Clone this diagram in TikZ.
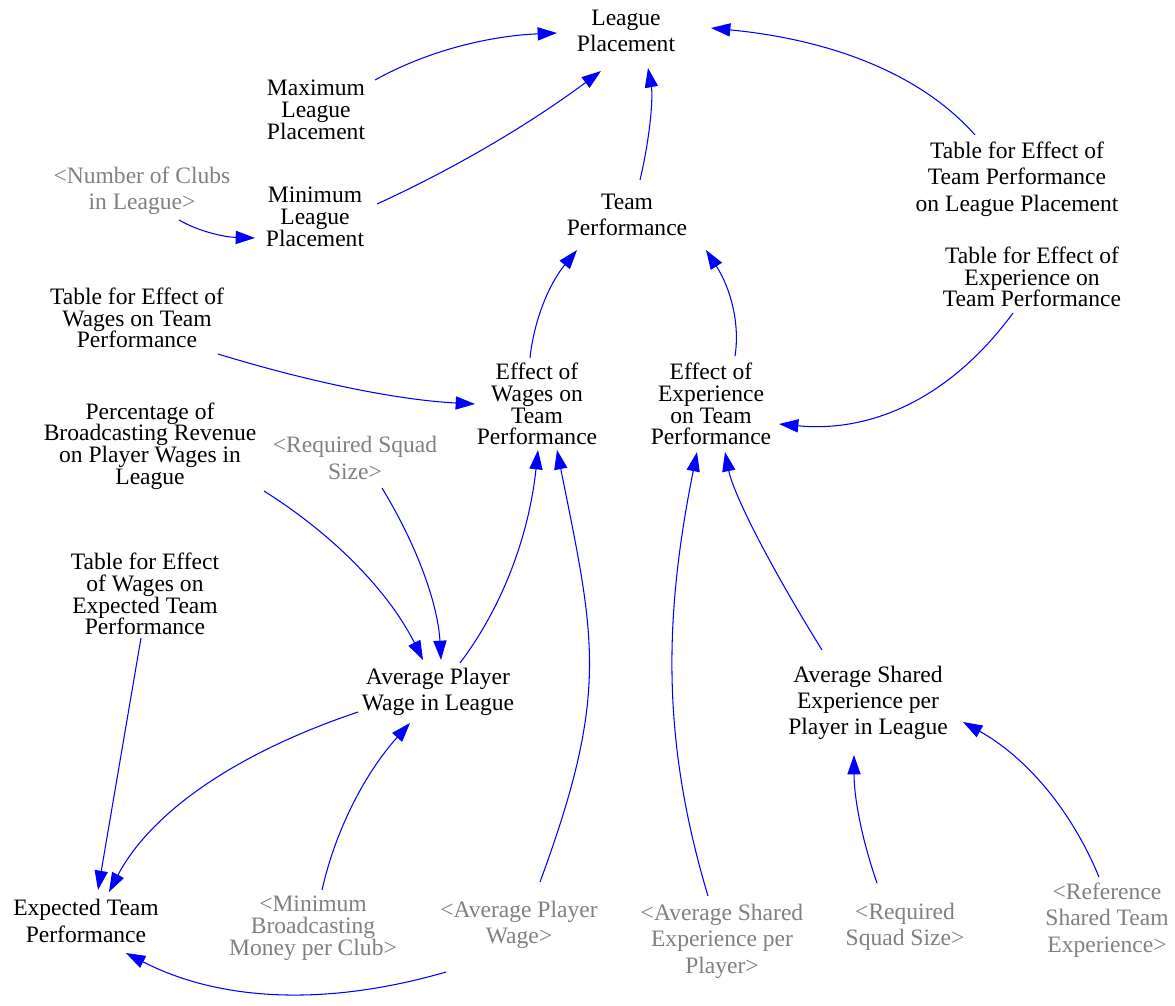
\documentclass[tikz,border=0pt]{standalone}
\usepackage{fontspec}
\setmainfont{Liberation Serif}
\usetikzlibrary{arrows.meta,calc}

\definecolor{linkblue}{RGB}{0,0,255}
\definecolor{shadowgray}{RGB}{128,128,128}

\begin{document}
\begin{tikzpicture}[
  x=0.02cm, y=-0.02cm,
  var/.style={align=center, inner sep=0pt, text=black},
  ghost/.style={var, text=shadowgray},
  tightlines/.style={font=\fontsize{13.4}{12.4}\selectfont},
  looselines/.style={font=\fontsize{13.4}{15}\selectfont},
  causal/.style={draw=linkblue, line width=0.6pt,
    -{Triangle[length=11pt,width=7.5pt,fill=linkblue]}}
]
\useasboundingbox (0,0) rectangle (1175,1005);

% ---- variables ----
\node[var, looselines]  (LP)       at (626,31)   {League\\Placement};
\node[var, tightlines]  (MaxLP)    at (316,110)  {Maximum\\League\\Placement};
\node[ghost, looselines](NumClubs) at (142,191)  {<Number of Clubs\\in League>};
\node[var, tightlines]  (MinLP)    at (315,217)  {Minimum\\League\\Placement};
\node[var, looselines]  (TP)       at (627,215)  {Team\\Performance};
\node[var, looselines]  (TabTPLP)  at (1017,179) {Table for Effect of\\Team Performance\\on League Placement};
\node[var, tightlines]  (TabExpTP) at (1032,277) {Table for Effect of\\Experience on\\Team Performance};
\node[var, tightlines]  (TabWTP)   at (137,318)  {Table for Effect of\\Wages on Team\\Performance};
\node[var, tightlines]  (EWTP)     at (537,404)  {Effect of\\Wages on\\Team\\Performance};
\node[var, tightlines]  (EETP)     at (711,404)  {Effect of\\Experience\\on Team\\Performance};
\node[var, tightlines]  (Pct)      at (150,446)  {Percentage of\\Broadcasting Revenue\\on Player Wages in\\League};
\node[ghost, looselines](ReqSqA)   at (355,458)  {<Required Squad\\Size>};
\node[var, tightlines]  (TabWETP)  at (145,594)  {Table for Effect\\of Wages on\\Expected Team\\Performance};
\node[var, looselines]  (APWL)     at (438,692)  {Average Player\\Wage in League};
\node[var, looselines]  (ASEPL)    at (868,703)  {Average Shared\\Experience per\\Player in League};
\node[var, looselines]  (ETP)      at (86,921)   {Expected Team\\Performance};
\node[ghost, tightlines](MinBroad) at (313,928)  {<Minimum\\Broadcasting\\Money per Club>};
\node[ghost, looselines](AvgPW)    at (519,925)  {<Average Player\\Wage>};
\node[ghost, looselines](AvgSE)    at (722,941)  {<Average Shared\\Experience per\\Player>};
\node[ghost, looselines](ReqSqB)   at (905,927)  {<Required\\Squad Size>};
\node[ghost, looselines](RefSTE)   at (1107,920) {<Reference\\Shared Team\\Experience>};

% ---- causal links ----
\draw[causal] ($(MaxLP)+(59,-30)$) .. controls (427,51) and (488,36) .. ($(LP)+(-69,2)$);
\draw[causal] ($(MinLP)+(62,-13)$) .. controls (460,166) and (534,121) .. ($(LP)+(-25,40)$);
\draw[causal] ($(NumClubs)+(37,29)$) .. controls (198,231) and (223,237) .. ($(MinLP)+(-60,21)$);
\draw[causal] ($(TP)+(13,-35)$) .. controls (651,133) and (653,96) .. ($(LP)+(22,37)$);
\draw[causal] ($(TabTPLP)+(-42,-44)$) .. controls (922,75) and (834,40) .. ($(LP)+(85,-3)$);

\draw[causal] ($(EWTP)+(-7,-46)$) .. controls (534,320) and (549,284) .. ($(TP)+(-50,35)$);
\draw[causal] ($(EETP)+(24,-48)$) .. controls (740,324) and (731,289) .. ($(TP)+(79,35)$);

\draw[causal] ($(TabExpTP)+(-19,36)$) .. controls (952,396) and (874,433) .. ($(EETP)+(68,20)$);
\draw[causal] ($(TabWTP)+(81,36)$) .. controls (313,383) and (399,400) .. ($(EWTP)+(-62,0)$);

\draw[causal] ($(Pct)+(114,45)$) .. controls (337,537) and (390,594) .. ($(APWL)+(-15,-32)$);
\draw[causal] ($(ReqSqA)+(27,30)$) .. controls (419,549) and (438,606) .. ($(APWL)+(3,-32)$);
\draw[causal] ($(APWL)+(22,-29)$) .. controls (503,606) and (529,535) .. ($(EWTP)+(1,46)$);
\draw[causal] ($(AvgPW)+(21,-43)$) .. controls (610,692) and (595,640) .. ($(EWTP)+(20,46)$);

\draw[causal] ($(AvgSE)+(-14,-45)$) .. controls (660,736) and (665,612) .. ($(EETP)+(-14,48)$);
\draw[causal] ($(ASEPL)+(-46,-53)$) .. controls (765,558) and (733,492) .. ($(EETP)+(14,48)$);

\draw[causal] ($(TabWETP)+(-4,44)$) -- ($(ETP)+(12,-31)$);
\draw[causal] ($(APWL)+(-80,20)$) .. controls (233,754) and (150,814) .. ($(ETP)+(23,-29)$);
\draw[causal] ($(MinBroad)+(9,-38)$) .. controls (336,828) and (366,772) .. ($(APWL)+(-28,31)$);
\draw[causal] ($(AvgPW)+(-73,47)$) .. controls (325,1007) and (219,1001) .. ($(ETP)+(40,32)$);

\draw[causal] ($(ReqSqB)+(-28,-44)$) .. controls (862,840) and (854,798) .. ($(ASEPL)+(-14,52)$);
\draw[causal] ($(RefSTE)+(-8,-43)$) .. controls (1070,807) and (1024,756) .. ($(ASEPL)+(95,19)$);
\end{tikzpicture}
\end{document}
